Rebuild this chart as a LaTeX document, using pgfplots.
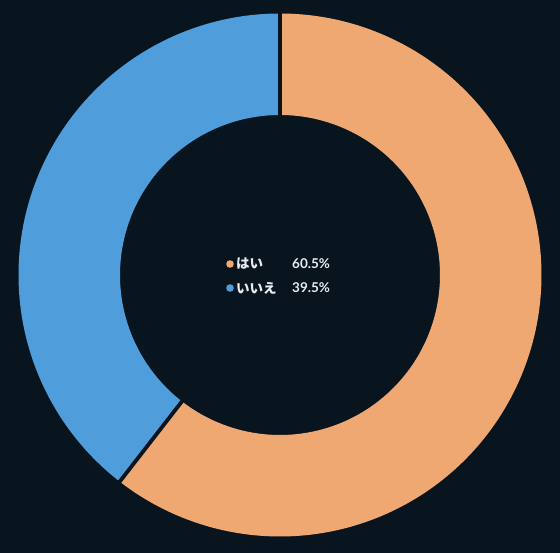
\documentclass[border=0pt]{standalone}
\usepackage{fontspec}
\usepackage{pgfplots}
\usepackage{pgfplotstable}
\pgfplotsset{compat=1.18}
\newfontfamily\cjk{Noto Sans CJK JP}
\newfontfamily\numf{Lato}
\definecolor{bgc}{RGB}{8,21,31}
\definecolor{cora}{RGB}{240,168,114}
\definecolor{corb}{RGB}{80,157,220}
\definecolor{txt}{RGB}{232,236,240}
\pgfplotstableread{
label value
hai 60.5
iie 39.5
}\piedata
\pgfplotstablegetelem{0}{value}\of\piedata \let\va\pgfplotsretval
\pgfplotstablegetelem{1}{value}\of\piedata \let\vb\pgfplotsretval
\pgfmathsetmacro\angA{90-3.6*\va}
\pgfmathsetmacro\angB{\angA-3.6*\vb}
\def\rmid{210.75}
\begin{document}
\begin{tikzpicture}
\fill[bgc] (0,0) rectangle (560pt,553pt);
\begin{axis}[
  at={(0,0)}, anchor=south west,
  scale only axis, width=560pt, height=553pt,
  xmin=-280, xmax=280, ymin=-278, ymax=275,
  hide axis, clip=false,
]
\addplot[draw=cora, line width=101.5pt, no marks, domain=90:\angA, samples=240] ({\rmid*cos(x)},{\rmid*sin(x)});
\addplot[draw=corb, line width=101.5pt, no marks, domain=\angA:\angB, samples=160] ({\rmid*cos(x)},{\rmid*sin(x)});
\addplot[draw=bgc, line width=3.8pt, no marks, domain=150:270, samples=2] ({x*cos(90)},{x*sin(90)});
\addplot[draw=bgc, line width=3.8pt, no marks, domain=150:270, samples=2] ({x*cos(\angA)},{x*sin(\angA)});
\fill[cora] (axis cs:-50,11) circle[radius=3.8pt];
\fill[corb] (axis cs:-50,-13) circle[radius=3.8pt];
\node[anchor=west, inner sep=0pt, text=txt, font=\cjk\bfseries\fontsize{13.5}{14}\selectfont] at (axis cs:-44,11) {はい};
\node[anchor=west, inner sep=0pt, text=txt, font=\cjk\bfseries\fontsize{13.5}{14}\selectfont] at (axis cs:-44,-13) {いいえ};
\node[anchor=west, inner sep=0pt, text=txt, font=\numf\bfseries\fontsize{13.5}{14}\selectfont] at (axis cs:12,11) {60.5\%};
\node[anchor=west, inner sep=0pt, text=txt, font=\numf\bfseries\fontsize{13.5}{14}\selectfont] at (axis cs:12,-13) {39.5\%};
\end{axis}
\end{tikzpicture}
\end{document}
